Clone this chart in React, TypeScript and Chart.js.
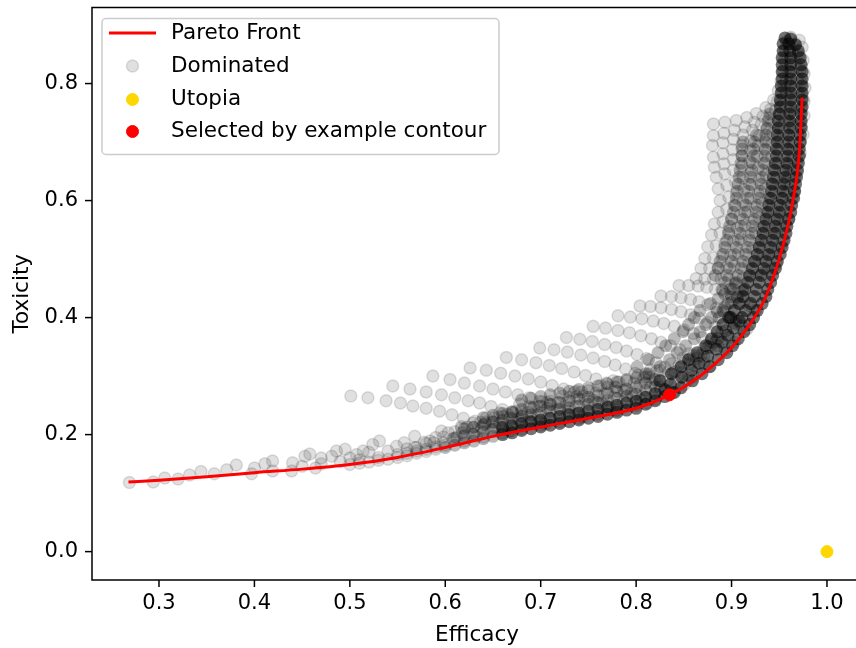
import React, { useEffect, useRef } from "react";
import { Chart, registerables } from "chart.js";

Chart.register(...registerables);

type Pt = [number, number];

// ---------- axes ----------
const xTicks = [0.3, 0.4, 0.5, 0.6, 0.7, 0.8, 0.9, 1.0];
const yTicks = [0.0, 0.2, 0.4, 0.6, 0.8];
const xTitle = "Efficacy";
const yTitle = "Toxicity";
const xMin = 0.2298;
const xMax = 1.0367;
const yMin = -0.0485;
const yMax = 0.93;

// ---------- series ----------
const paretoEfficacy = [0.268, 0.3, 0.35, 0.4, 0.45, 0.5, 0.55, 0.6, 0.65, 0.7, 0.75, 0.8, 0.835, 0.866, 0.898, 0.919, 0.936, 0.954, 0.964, 0.971, 0.974];
const paretoToxicity = [0.119, 0.122, 0.128, 0.135, 0.141, 0.149, 0.161, 0.178, 0.197, 0.213, 0.228, 0.245, 0.268, 0.299, 0.345, 0.388, 0.436, 0.524, 0.597, 0.683, 0.776];

const utopiaPoint: Pt = [1.0, 0.0];
const selectedPoint: Pt = [0.835, 0.268];

const dominatedLowBand: Pt[] = [
  [0.269, 0.118], [0.294, 0.119], [0.306, 0.126], [0.32, 0.124], [0.332, 0.131], [0.344, 0.137], [0.358, 0.133],
  [0.371, 0.14], [0.381, 0.148], [0.397, 0.133], [0.4, 0.143], [0.411, 0.15], [0.419, 0.155], [0.419, 0.138],
  [0.44, 0.152], [0.439, 0.138], [0.453, 0.163], [0.458, 0.167], [0.464, 0.143], [0.481, 0.163], [0.486, 0.172],
  [0.495, 0.175], [0.507, 0.166], [0.514, 0.172], [0.524, 0.183], [0.531, 0.189], [0.54, 0.172], [0.549, 0.18],
  [0.557, 0.186], [0.568, 0.197], [0.57, 0.178], [0.584, 0.189], [0.596, 0.206], [0.598, 0.186], [0.612, 0.195],
  [0.617, 0.214], [0.629, 0.22], [0.633, 0.197], [0.643, 0.229], [0.657, 0.237], [0.667, 0.206], [0.678, 0.223],
  [0.678, 0.252], [0.45, 0.146], [0.47, 0.15], [0.49, 0.154], [0.51, 0.157], [0.53, 0.161], [0.55, 0.166],
  [0.57, 0.172], [0.59, 0.179], [0.47, 0.16], [0.5, 0.16], [0.52, 0.17], [0.56, 0.176], [0.58, 0.185],
  [0.5, 0.149], [0.51, 0.151], [0.52, 0.153], [0.53, 0.156], [0.54, 0.158], [0.55, 0.161], [0.56, 0.164],
  [0.57, 0.168], [0.58, 0.171], [0.59, 0.175],
];

const dominatedFallingRows: Pt[][] = [
  [[0.501, 0.266], [0.519, 0.263], [0.538, 0.258], [0.553, 0.254], [0.566, 0.249], [0.58, 0.245], [0.594, 0.24], [0.607, 0.234], [0.619, 0.228], [0.631, 0.223], [0.642, 0.218], [0.652, 0.213], [0.661, 0.209], [0.669, 0.206]],
  [[0.545, 0.283], [0.563, 0.278], [0.58, 0.273], [0.596, 0.268], [0.61, 0.263], [0.624, 0.258], [0.636, 0.254], [0.648, 0.248], [0.66, 0.243], [0.671, 0.237], [0.681, 0.232], [0.69, 0.227], [0.698, 0.222], [0.705, 0.218]],
  [[0.587, 0.3], [0.605, 0.294], [0.62, 0.288], [0.636, 0.283], [0.65, 0.278], [0.663, 0.273], [0.676, 0.268], [0.688, 0.263], [0.699, 0.257], [0.71, 0.251], [0.72, 0.245], [0.729, 0.24], [0.737, 0.235], [0.744, 0.23]],
  [[0.626, 0.314], [0.643, 0.31], [0.658, 0.305], [0.673, 0.3], [0.687, 0.295], [0.7, 0.29], [0.712, 0.284], [0.724, 0.278], [0.735, 0.272], [0.745, 0.266], [0.755, 0.259], [0.764, 0.253], [0.772, 0.247], [0.779, 0.242]],
  [[0.664, 0.332], [0.68, 0.328], [0.695, 0.323], [0.709, 0.318], [0.722, 0.313], [0.735, 0.307], [0.747, 0.301], [0.758, 0.295], [0.769, 0.288], [0.779, 0.281], [0.788, 0.274], [0.797, 0.266], [0.805, 0.259], [0.812, 0.254]],
  [[0.699, 0.348], [0.714, 0.345], [0.728, 0.341], [0.742, 0.336], [0.755, 0.331], [0.767, 0.325], [0.778, 0.319], [0.789, 0.312], [0.799, 0.305], [0.808, 0.297], [0.817, 0.289], [0.825, 0.281], [0.832, 0.274], [0.838, 0.271]],
  [[0.727, 0.366], [0.741, 0.363], [0.754, 0.359], [0.767, 0.354], [0.779, 0.349], [0.79, 0.343], [0.801, 0.337], [0.811, 0.33], [0.821, 0.323], [0.83, 0.315], [0.839, 0.307], [0.847, 0.299], [0.854, 0.292]],
  [[0.755, 0.385], [0.768, 0.382], [0.781, 0.378], [0.793, 0.374], [0.805, 0.369], [0.816, 0.364], [0.826, 0.358], [0.836, 0.352], [0.846, 0.345], [0.855, 0.338], [0.863, 0.33], [0.871, 0.322], [0.878, 0.317]],
  [[0.781, 0.403], [0.794, 0.401], [0.806, 0.398], [0.818, 0.394], [0.829, 0.39], [0.84, 0.385], [0.85, 0.379], [0.86, 0.373], [0.869, 0.366], [0.878, 0.359], [0.886, 0.352], [0.893, 0.345]],
  [[0.804, 0.42], [0.815, 0.419], [0.826, 0.417], [0.837, 0.414], [0.847, 0.41], [0.857, 0.405], [0.866, 0.399], [0.875, 0.392], [0.883, 0.384], [0.89, 0.375], [0.897, 0.366], [0.903, 0.358]],
  [[0.826, 0.437], [0.837, 0.436], [0.847, 0.434], [0.857, 0.431], [0.866, 0.427], [0.875, 0.422], [0.884, 0.416], [0.892, 0.409], [0.899, 0.401], [0.905, 0.393], [0.911, 0.385], [0.916, 0.38]],
  [[0.845, 0.455], [0.855, 0.455], [0.865, 0.454], [0.874, 0.452], [0.883, 0.449], [0.891, 0.445], [0.899, 0.44], [0.906, 0.434], [0.913, 0.427], [0.919, 0.42], [0.925, 0.412]],
];

const dominatedUpperRows: Pt[][] = [
  [[0.881, 0.731], [0.893, 0.734], [0.905, 0.737], [0.916, 0.742], [0.926, 0.749], [0.936, 0.759], [0.944, 0.772], [0.949, 0.788], [0.952, 0.805], [0.954, 0.822], [0.955, 0.84], [0.956, 0.857], [0.958, 0.872], [0.962, 0.879]],
  [[0.881, 0.711], [0.892, 0.715], [0.903, 0.72], [0.914, 0.726], [0.924, 0.734], [0.933, 0.744], [0.941, 0.756], [0.948, 0.77], [0.953, 0.786], [0.957, 0.803], [0.96, 0.82], [0.962, 0.838], [0.964, 0.855], [0.967, 0.868], [0.971, 0.874]],
  [[0.88, 0.694], [0.891, 0.699], [0.902, 0.705], [0.912, 0.712], [0.922, 0.72], [0.931, 0.73], [0.939, 0.741], [0.946, 0.754], [0.952, 0.768], [0.957, 0.784], [0.961, 0.801], [0.964, 0.818], [0.967, 0.835], [0.97, 0.851], [0.974, 0.862]],
  [[0.881, 0.674], [0.891, 0.68], [0.901, 0.687], [0.911, 0.694], [0.92, 0.702], [0.929, 0.711], [0.937, 0.722], [0.944, 0.734], [0.951, 0.747], [0.957, 0.761], [0.962, 0.776], [0.966, 0.792], [0.969, 0.808], [0.972, 0.824], [0.975, 0.84]],
  [[0.882, 0.657], [0.892, 0.663], [0.902, 0.67], [0.911, 0.677], [0.92, 0.685], [0.928, 0.694], [0.936, 0.704], [0.943, 0.715], [0.95, 0.727], [0.956, 0.74], [0.961, 0.754], [0.966, 0.769], [0.97, 0.785], [0.973, 0.801], [0.976, 0.817]],
  [[0.884, 0.64], [0.893, 0.646], [0.902, 0.652], [0.911, 0.659], [0.919, 0.667], [0.927, 0.676], [0.935, 0.686], [0.942, 0.696], [0.949, 0.707], [0.955, 0.719], [0.961, 0.732], [0.966, 0.746], [0.97, 0.761], [0.974, 0.777], [0.977, 0.793]],
  [[0.886, 0.62], [0.895, 0.626], [0.904, 0.632], [0.912, 0.639], [0.92, 0.647], [0.928, 0.656], [0.935, 0.665], [0.942, 0.675], [0.949, 0.686], [0.955, 0.698], [0.96, 0.711], [0.965, 0.725], [0.969, 0.74], [0.973, 0.755], [0.976, 0.77]],
  [[0.888, 0.6], [0.897, 0.606], [0.905, 0.612], [0.913, 0.619], [0.921, 0.627], [0.929, 0.635], [0.936, 0.644], [0.943, 0.654], [0.949, 0.664], [0.955, 0.675], [0.96, 0.687], [0.965, 0.7], [0.969, 0.714], [0.973, 0.729], [0.976, 0.745]],
  [[0.886, 0.58], [0.895, 0.585], [0.904, 0.591], [0.912, 0.597], [0.92, 0.604], [0.928, 0.612], [0.935, 0.62], [0.942, 0.629], [0.948, 0.639], [0.954, 0.649], [0.959, 0.66], [0.964, 0.672], [0.968, 0.685], [0.972, 0.699], [0.975, 0.713]],
  [[0.882, 0.56], [0.891, 0.564], [0.9, 0.569], [0.909, 0.575], [0.917, 0.581], [0.925, 0.588], [0.932, 0.596], [0.939, 0.604], [0.945, 0.613], [0.951, 0.622], [0.956, 0.632], [0.961, 0.643], [0.965, 0.655], [0.969, 0.668], [0.972, 0.681]],
  [[0.879, 0.541], [0.888, 0.544], [0.897, 0.548], [0.906, 0.553], [0.914, 0.558], [0.922, 0.564], [0.929, 0.571], [0.936, 0.578], [0.942, 0.586], [0.948, 0.595], [0.953, 0.604], [0.958, 0.614], [0.962, 0.625], [0.966, 0.637], [0.969, 0.649]],
  [[0.875, 0.521], [0.884, 0.523], [0.893, 0.526], [0.902, 0.53], [0.91, 0.534], [0.918, 0.539], [0.925, 0.545], [0.932, 0.551], [0.939, 0.558], [0.945, 0.566], [0.95, 0.574], [0.955, 0.583], [0.959, 0.593], [0.963, 0.604], [0.966, 0.615]],
  [[0.872, 0.501], [0.881, 0.502], [0.89, 0.504], [0.899, 0.507], [0.907, 0.51], [0.915, 0.514], [0.922, 0.519], [0.929, 0.524], [0.936, 0.53], [0.942, 0.537], [0.947, 0.544], [0.952, 0.552], [0.956, 0.561], [0.96, 0.57]],
  [[0.868, 0.484], [0.877, 0.484], [0.886, 0.485], [0.895, 0.486], [0.903, 0.488], [0.911, 0.49], [0.918, 0.493], [0.925, 0.497], [0.932, 0.501], [0.938, 0.506], [0.944, 0.512], [0.949, 0.519], [0.953, 0.527]],
  [[0.863, 0.467], [0.872, 0.466], [0.881, 0.466], [0.889, 0.466], [0.897, 0.466], [0.905, 0.467], [0.912, 0.468], [0.919, 0.47], [0.926, 0.473], [0.932, 0.476], [0.938, 0.48], [0.943, 0.485], [0.947, 0.491]],
];

const dominatedRisingRows: Pt[][] = [
  [[0.56, 0.168], [0.568, 0.178], [0.578, 0.187], [0.59, 0.195], [0.603, 0.203], [0.617, 0.211]],
  [[0.58, 0.175], [0.588, 0.186], [0.598, 0.196], [0.61, 0.205], [0.623, 0.213], [0.637, 0.221], [0.651, 0.228], [0.665, 0.235]],
  [[0.6, 0.182], [0.608, 0.193], [0.618, 0.203], [0.629, 0.212], [0.642, 0.221], [0.656, 0.23], [0.67, 0.238]],
  [[0.62, 0.189], [0.628, 0.201], [0.638, 0.212], [0.649, 0.222], [0.661, 0.231], [0.674, 0.24], [0.688, 0.248], [0.702, 0.256]],
  [[0.64, 0.196], [0.648, 0.208], [0.657, 0.219], [0.668, 0.229], [0.68, 0.238], [0.693, 0.247], [0.707, 0.255]],
  [[0.66, 0.203], [0.668, 0.215], [0.677, 0.227], [0.687, 0.238], [0.698, 0.248], [0.71, 0.257], [0.723, 0.266], [0.737, 0.274]],
  [[0.68, 0.21], [0.688, 0.222], [0.697, 0.234], [0.707, 0.245], [0.718, 0.255], [0.73, 0.264], [0.743, 0.273]],
  [[0.7, 0.216], [0.708, 0.229], [0.717, 0.242], [0.727, 0.254], [0.738, 0.265], [0.75, 0.275], [0.763, 0.284], [0.776, 0.292]],
  [[0.72, 0.222], [0.728, 0.235], [0.737, 0.248], [0.747, 0.26], [0.758, 0.271], [0.77, 0.281], [0.782, 0.29]],
  [[0.74, 0.228], [0.748, 0.242], [0.757, 0.256], [0.767, 0.269], [0.778, 0.281], [0.79, 0.292], [0.802, 0.302], [0.815, 0.311]],
  [[0.76, 0.235], [0.768, 0.249], [0.777, 0.263], [0.787, 0.276], [0.798, 0.288], [0.81, 0.299], [0.822, 0.309]],
  [[0.78, 0.241], [0.787, 0.256], [0.795, 0.271], [0.804, 0.285], [0.814, 0.298], [0.825, 0.31], [0.837, 0.321], [0.849, 0.331]],
  [[0.8, 0.25], [0.807, 0.265], [0.815, 0.28], [0.824, 0.294], [0.834, 0.307], [0.845, 0.319], [0.856, 0.33]],
  [[0.82, 0.261], [0.826, 0.277], [0.833, 0.293], [0.841, 0.308], [0.85, 0.322], [0.86, 0.335], [0.871, 0.347], [0.882, 0.358]],
  [[0.835, 0.274], [0.841, 0.29], [0.848, 0.306], [0.856, 0.321], [0.865, 0.335], [0.874, 0.348], [0.884, 0.36]],
  [[0.85, 0.285], [0.855, 0.302], [0.861, 0.319], [0.868, 0.335], [0.876, 0.35], [0.885, 0.364], [0.894, 0.377], [0.904, 0.389]],
  [[0.86, 0.299], [0.865, 0.316], [0.871, 0.333], [0.878, 0.349], [0.886, 0.364], [0.894, 0.378], [0.903, 0.391]],
];

// grey halo of the band, between the dark core and the outer rows
const haloBand: Pt[] = [
  [0.6, 0.178], [0.61, 0.182], [0.62, 0.186], [0.63, 0.189], [0.64, 0.193], [0.65, 0.197], [0.61, 0.194], [0.62, 0.198],
  [0.63, 0.201], [0.64, 0.205], [0.65, 0.209],
  [0.62, 0.21], [0.63, 0.213], [0.64, 0.217], [0.65, 0.221], [0.66, 0.224], [0.67, 0.227], [0.68, 0.231], [0.69, 0.234],
  [0.7, 0.237], [0.71, 0.24], [0.72, 0.243], [0.73, 0.246], [0.74, 0.249], [0.75, 0.252], [0.76, 0.255], [0.77, 0.259],
  [0.78, 0.262], [0.79, 0.266], [0.8, 0.269], [0.81, 0.276], [0.82, 0.282],
  [0.64, 0.229], [0.65, 0.233], [0.66, 0.236], [0.67, 0.239], [0.68, 0.243], [0.69, 0.246], [0.7, 0.249], [0.71, 0.252],
  [0.72, 0.255], [0.73, 0.258], [0.74, 0.261], [0.75, 0.264], [0.76, 0.267], [0.77, 0.271], [0.78, 0.274], [0.79, 0.278],
  [0.8, 0.281], [0.81, 0.288], [0.82, 0.294],
  [0.68, 0.259], [0.69, 0.262], [0.7, 0.265], [0.71, 0.268], [0.72, 0.271], [0.73, 0.274], [0.74, 0.277], [0.75, 0.28],
  [0.76, 0.283], [0.77, 0.287], [0.78, 0.29], [0.79, 0.294], [0.8, 0.297], [0.81, 0.304],
  [0.813, 0.304], [0.825, 0.316], [0.835, 0.328], [0.843, 0.34], [0.852, 0.352], [0.861, 0.364], [0.867, 0.376], [0.873, 0.388],
  [0.879, 0.4], [0.801, 0.316], [0.813, 0.328], [0.823, 0.34], [0.831, 0.352], [0.84, 0.364], [0.849, 0.376], [0.855, 0.388],
  [0.861, 0.4], [0.867, 0.412],
  [0.885, 0.41], [0.893, 0.418], [0.9, 0.426], [0.906, 0.436], [0.912, 0.446], [0.878, 0.424], [0.886, 0.432], [0.893, 0.44],
  [0.899, 0.449], [0.904, 0.458],
  [0.887, 0.4], [0.891, 0.412], [0.896, 0.424], [0.9, 0.436], [0.902, 0.448], [0.905, 0.46], [0.907, 0.472], [0.91, 0.484],
  [0.912, 0.496], [0.915, 0.508], [0.917, 0.52], [0.919, 0.532], [0.921, 0.544], [0.922, 0.556], [0.924, 0.568], [0.926, 0.58],
  [0.927, 0.592], [0.929, 0.604], [0.93, 0.616], [0.931, 0.628], [0.932, 0.64], [0.933, 0.652], [0.934, 0.664], [0.935, 0.676],
  [0.935, 0.688], [0.936, 0.7], [0.936, 0.712], [0.937, 0.724], [0.938, 0.736], [0.94, 0.748],
  [0.89, 0.448], [0.893, 0.46], [0.895, 0.472], [0.898, 0.484], [0.9, 0.496], [0.903, 0.508], [0.905, 0.52], [0.907, 0.532],
  [0.909, 0.544], [0.91, 0.556], [0.912, 0.568], [0.914, 0.58], [0.915, 0.592], [0.917, 0.604], [0.918, 0.616], [0.919, 0.628],
  [0.92, 0.64], [0.921, 0.652], [0.922, 0.664], [0.923, 0.676], [0.923, 0.688], [0.924, 0.7], [0.926, 0.712],
  [0.883, 0.472], [0.886, 0.484], [0.888, 0.496], [0.891, 0.508], [0.893, 0.52], [0.895, 0.532], [0.897, 0.544], [0.898, 0.556],
  [0.9, 0.568], [0.902, 0.58], [0.903, 0.592], [0.905, 0.604], [0.906, 0.616], [0.907, 0.628], [0.908, 0.64], [0.909, 0.652],
  [0.91, 0.664], [0.911, 0.676], [0.911, 0.688], [0.912, 0.7],
];

// dark core of the band: on the front and just inside it
const denseOnFront: Pt[] = [
  [0.66, 0.2], [0.67, 0.203],
  [0.68, 0.207], [0.69, 0.21], [0.7, 0.213], [0.71, 0.216], [0.72, 0.219], [0.73, 0.222], [0.74, 0.225], [0.75, 0.228],
  [0.76, 0.231], [0.77, 0.235], [0.78, 0.238], [0.79, 0.242], [0.8, 0.245], [0.81, 0.252], [0.82, 0.258], [0.83, 0.265],
  [0.84, 0.272], [0.847, 0.28], [0.859, 0.292], [0.869, 0.304], [0.877, 0.316], [0.886, 0.328], [0.895, 0.34], [0.901, 0.352],
  [0.907, 0.364], [0.913, 0.376], [0.919, 0.388], [0.923, 0.4], [0.927, 0.412], [0.932, 0.424], [0.936, 0.436], [0.938, 0.448],
  [0.941, 0.46], [0.943, 0.472], [0.946, 0.484], [0.948, 0.496], [0.951, 0.508], [0.953, 0.52], [0.955, 0.532], [0.957, 0.544],
  [0.958, 0.556], [0.96, 0.568], [0.962, 0.58], [0.963, 0.592], [0.965, 0.604], [0.966, 0.616], [0.967, 0.628], [0.968, 0.64],
  [0.969, 0.652], [0.97, 0.664], [0.971, 0.676], [0.971, 0.688], [0.972, 0.7], [0.972, 0.712], [0.973, 0.724], [0.973, 0.736],
  [0.973, 0.748], [0.974, 0.76], [0.974, 0.772], [0.974, 0.784], [0.974, 0.796], [0.974, 0.808], [0.974, 0.82], [0.973, 0.832],
  [0.972, 0.844], [0.97, 0.856], [0.967, 0.866],
];

const denseNearFront: Pt[] = [
  [0.66, 0.212], [0.67, 0.215], [0.68, 0.219],
  [0.69, 0.222], [0.7, 0.225], [0.71, 0.228], [0.72, 0.231], [0.73, 0.234], [0.74, 0.237], [0.75, 0.24], [0.76, 0.243],
  [0.77, 0.247], [0.78, 0.25], [0.79, 0.254], [0.8, 0.257], [0.81, 0.264], [0.82, 0.27], [0.83, 0.277],
  [0.836, 0.286], [0.848, 0.298], [0.858, 0.31], [0.866, 0.322], [0.875, 0.334], [0.884, 0.346], [0.89, 0.358], [0.896, 0.37],
  [0.902, 0.382], [0.908, 0.394], [0.911, 0.4], [0.915, 0.412], [0.92, 0.424], [0.924, 0.436], [0.926, 0.448], [0.929, 0.46],
  [0.931, 0.472], [0.934, 0.484], [0.936, 0.496], [0.939, 0.508], [0.941, 0.52], [0.943, 0.532], [0.945, 0.544], [0.946, 0.556],
  [0.948, 0.568], [0.95, 0.58], [0.951, 0.592], [0.953, 0.604], [0.954, 0.616], [0.955, 0.628], [0.956, 0.64], [0.957, 0.652],
  [0.958, 0.664], [0.959, 0.676], [0.959, 0.688], [0.96, 0.7], [0.96, 0.712], [0.961, 0.724], [0.961, 0.736], [0.961, 0.748],
  [0.962, 0.76], [0.962, 0.772], [0.962, 0.784], [0.962, 0.796], [0.962, 0.808], [0.962, 0.82], [0.962, 0.832], [0.962, 0.844],
  [0.961, 0.856], [0.96, 0.868], [0.962, 0.876],
];

const denseInsideFront: Pt[] = [
  [0.825, 0.292], [0.837, 0.304], [0.847, 0.316], [0.855, 0.328], [0.864, 0.34], [0.873, 0.352], [0.879, 0.364], [0.885, 0.376],
  [0.891, 0.388], [0.897, 0.4], [0.899, 0.4], [0.903, 0.412], [0.908, 0.424], [0.912, 0.436], [0.914, 0.448], [0.917, 0.46],
  [0.919, 0.472], [0.922, 0.484], [0.924, 0.496], [0.927, 0.508], [0.929, 0.52], [0.931, 0.532], [0.933, 0.544], [0.934, 0.556],
  [0.936, 0.568], [0.938, 0.58], [0.939, 0.592], [0.941, 0.604], [0.942, 0.616], [0.943, 0.628], [0.944, 0.64], [0.945, 0.652],
  [0.946, 0.664], [0.947, 0.676], [0.947, 0.688], [0.948, 0.7], [0.948, 0.712], [0.949, 0.724], [0.949, 0.736], [0.95, 0.748],
  [0.951, 0.76], [0.951, 0.772], [0.952, 0.784], [0.952, 0.796], [0.953, 0.808], [0.953, 0.82], [0.953, 0.832], [0.953, 0.844],
  [0.954, 0.856], [0.954, 0.868], [0.956, 0.878],
];

// ---------- styling ----------
const TICK_FONT = '21px "DejaVu Sans"';
const FONT = '21.5px "DejaVu Sans"';
const DOM_COLOR = "rgba(0,0,0,0.12)";
const HALO_COLOR = "rgba(0,0,0,0.27)";
const DENSE_COLOR = "rgba(0,0,0,0.55)";
const RED = "#ff0000";
const GOLD = "#ffd700";

const toXY = (p: Pt) => ({ x: p[0], y: p[1] });

const axesPlugin = {
  id: "mplAxes",
  afterDatasetsDraw(chart: any) {
    const { ctx, chartArea: a, scales } = chart;
    const xs = scales.x;
    const ys = scales.y;
    ctx.save();
    ctx.strokeStyle = "#000";
    ctx.lineWidth = 1.5;
    ctx.strokeRect(a.left, a.top, a.right - a.left, a.bottom - a.top);
    ctx.fillStyle = "#000";
    ctx.font = TICK_FONT;
    ctx.textAlign = "center";
    ctx.textBaseline = "middle";
    for (const t of xTicks) {
      const px = xs.getPixelForValue(t);
      ctx.beginPath();
      ctx.moveTo(px, a.bottom);
      ctx.lineTo(px, a.bottom + 7);
      ctx.stroke();
      ctx.fillText(t.toFixed(1), px, a.bottom + 24);
    }
    ctx.textAlign = "right";
    for (const t of yTicks) {
      const py = ys.getPixelForValue(t);
      ctx.beginPath();
      ctx.moveTo(a.left, py);
      ctx.lineTo(a.left - 7, py);
      ctx.stroke();
      ctx.fillText(t.toFixed(1), a.left - 14, py);
    }
    ctx.font = FONT;
    ctx.textAlign = "center";
    ctx.fillText(xTitle, (a.left + a.right) / 2, a.bottom + 55);
    ctx.save();
    ctx.translate(22, (a.top + a.bottom) / 2);
    ctx.rotate(-Math.PI / 2);
    ctx.fillText(yTitle, 0, 0);
    ctx.restore();
    ctx.restore();
  },
  afterDraw(chart: any) {
    const { ctx, chartArea: a } = chart;
    const bx = a.left + 10;
    const by = a.top + 11;
    const bw = 397;
    const bh = 136;
    const r = 4;
    ctx.save();
    ctx.beginPath();
    ctx.moveTo(bx + r, by);
    ctx.lineTo(bx + bw - r, by);
    ctx.arcTo(bx + bw, by, bx + bw, by + r, r);
    ctx.lineTo(bx + bw, by + bh - r);
    ctx.arcTo(bx + bw, by + bh, bx + bw - r, by + bh, r);
    ctx.lineTo(bx + r, by + bh);
    ctx.arcTo(bx, by + bh, bx, by + bh - r, r);
    ctx.lineTo(bx, by + r);
    ctx.arcTo(bx, by, bx + r, by, r);
    ctx.closePath();
    ctx.fillStyle = "rgba(255,255,255,0.8)";
    ctx.fill();
    ctx.strokeStyle = "#cccccc";
    ctx.lineWidth = 1.5;
    ctx.stroke();

    const items = chart.data.datasets.filter((d: any) => d.label);
    const rowY = [33, 66, 99.5, 131.5];
    const mx = bx + 30.5;
    items.forEach((d: any, i: number) => {
      const y = rowY[i];
      if (d.showLine) {
        ctx.beginPath();
        ctx.moveTo(bx + 7, y);
        ctx.lineTo(bx + 54, y);
        ctx.strokeStyle = d.borderColor;
        ctx.lineWidth = 3;
        ctx.stroke();
      } else {
        ctx.beginPath();
        ctx.arc(mx, y, 6, 0, Math.PI * 2);
        ctx.fillStyle = d.pointBackgroundColor;
        ctx.fill();
        ctx.strokeStyle = d.pointBorderColor;
        ctx.lineWidth = d.pointBorderWidth;
        ctx.stroke();
      }
      ctx.fillStyle = "#000";
      ctx.font = FONT;
      ctx.textAlign = "left";
      ctx.textBaseline = "middle";
      ctx.fillText(d.label, bx + 69, y);
    });
    ctx.restore();
  },
};

const pointSet = (label: string, data: any[], color: string, radius: number, border: number, order: number) => ({
  label,
  data,
  pointRadius: radius,
  pointBackgroundColor: color,
  pointBorderColor: color,
  pointBorderWidth: border,
  backgroundColor: color,
  borderColor: color,
  order,
});

export default function App() {
  const canvasRef = useRef<HTMLCanvasElement | null>(null);

  useEffect(() => {
    const canvas = canvasRef.current;
    if (!canvas) return;

    const dominatedAll = [
      ...dominatedLowBand,
      ...dominatedFallingRows.flat(),
      ...dominatedUpperRows.flat(),
      ...dominatedRisingRows.flat(),
    ].map(toXY);
    const haloAll = haloBand.map(toXY);
    const denseAll = [...denseOnFront, ...denseNearFront, ...denseInsideFront].map(toXY);

    const chart = new Chart(canvas, {
      type: "scatter",
      data: {
        datasets: [
          {
            label: "Pareto Front",
            data: paretoEfficacy.map((x, i) => ({ x, y: paretoToxicity[i] })),
            showLine: true,
            borderColor: RED,
            backgroundColor: RED,
            borderWidth: 3,
            pointRadius: 0,
            cubicInterpolationMode: "monotone",
            fill: false,
            order: 2,
          } as any,
          pointSet("Dominated", dominatedAll, DOM_COLOR, 6, 1.5, 3) as any,
          pointSet("Utopia", [toXY(utopiaPoint)], GOLD, 6, 1, 1) as any,
          pointSet("Selected by example contour", [toXY(selectedPoint)], RED, 6, 1, 0) as any,
          pointSet("", haloAll, HALO_COLOR, 6.5, 0, 4) as any,
          pointSet("", denseAll, DENSE_COLOR, 6.5, 0, 5) as any,
        ],
      },
      options: {
        animation: false,
        responsive: false,
        devicePixelRatio: 1,
        events: [],
        layout: { padding: { left: 92, right: 8, top: 5, bottom: 68 } },
        scales: {
          x: { type: "linear", min: xMin, max: xMax, display: false },
          y: { type: "linear", min: yMin, max: yMax, display: false },
        },
        plugins: {
          legend: { display: false },
          tooltip: { enabled: false },
        },
      },
      plugins: [axesPlugin],
    });

    return () => chart.destroy();
  }, []);

  return (
    <div
      style={{
        position: "fixed",
        left: 0,
        top: 0,
        width: 856,
        height: 648,
        overflow: "hidden",
        background: "#fff",
      }}
    >
      <canvas ref={canvasRef} width={870} height={648} style={{ display: "block", width: 870, height: 648 }} />
    </div>
  );
}
